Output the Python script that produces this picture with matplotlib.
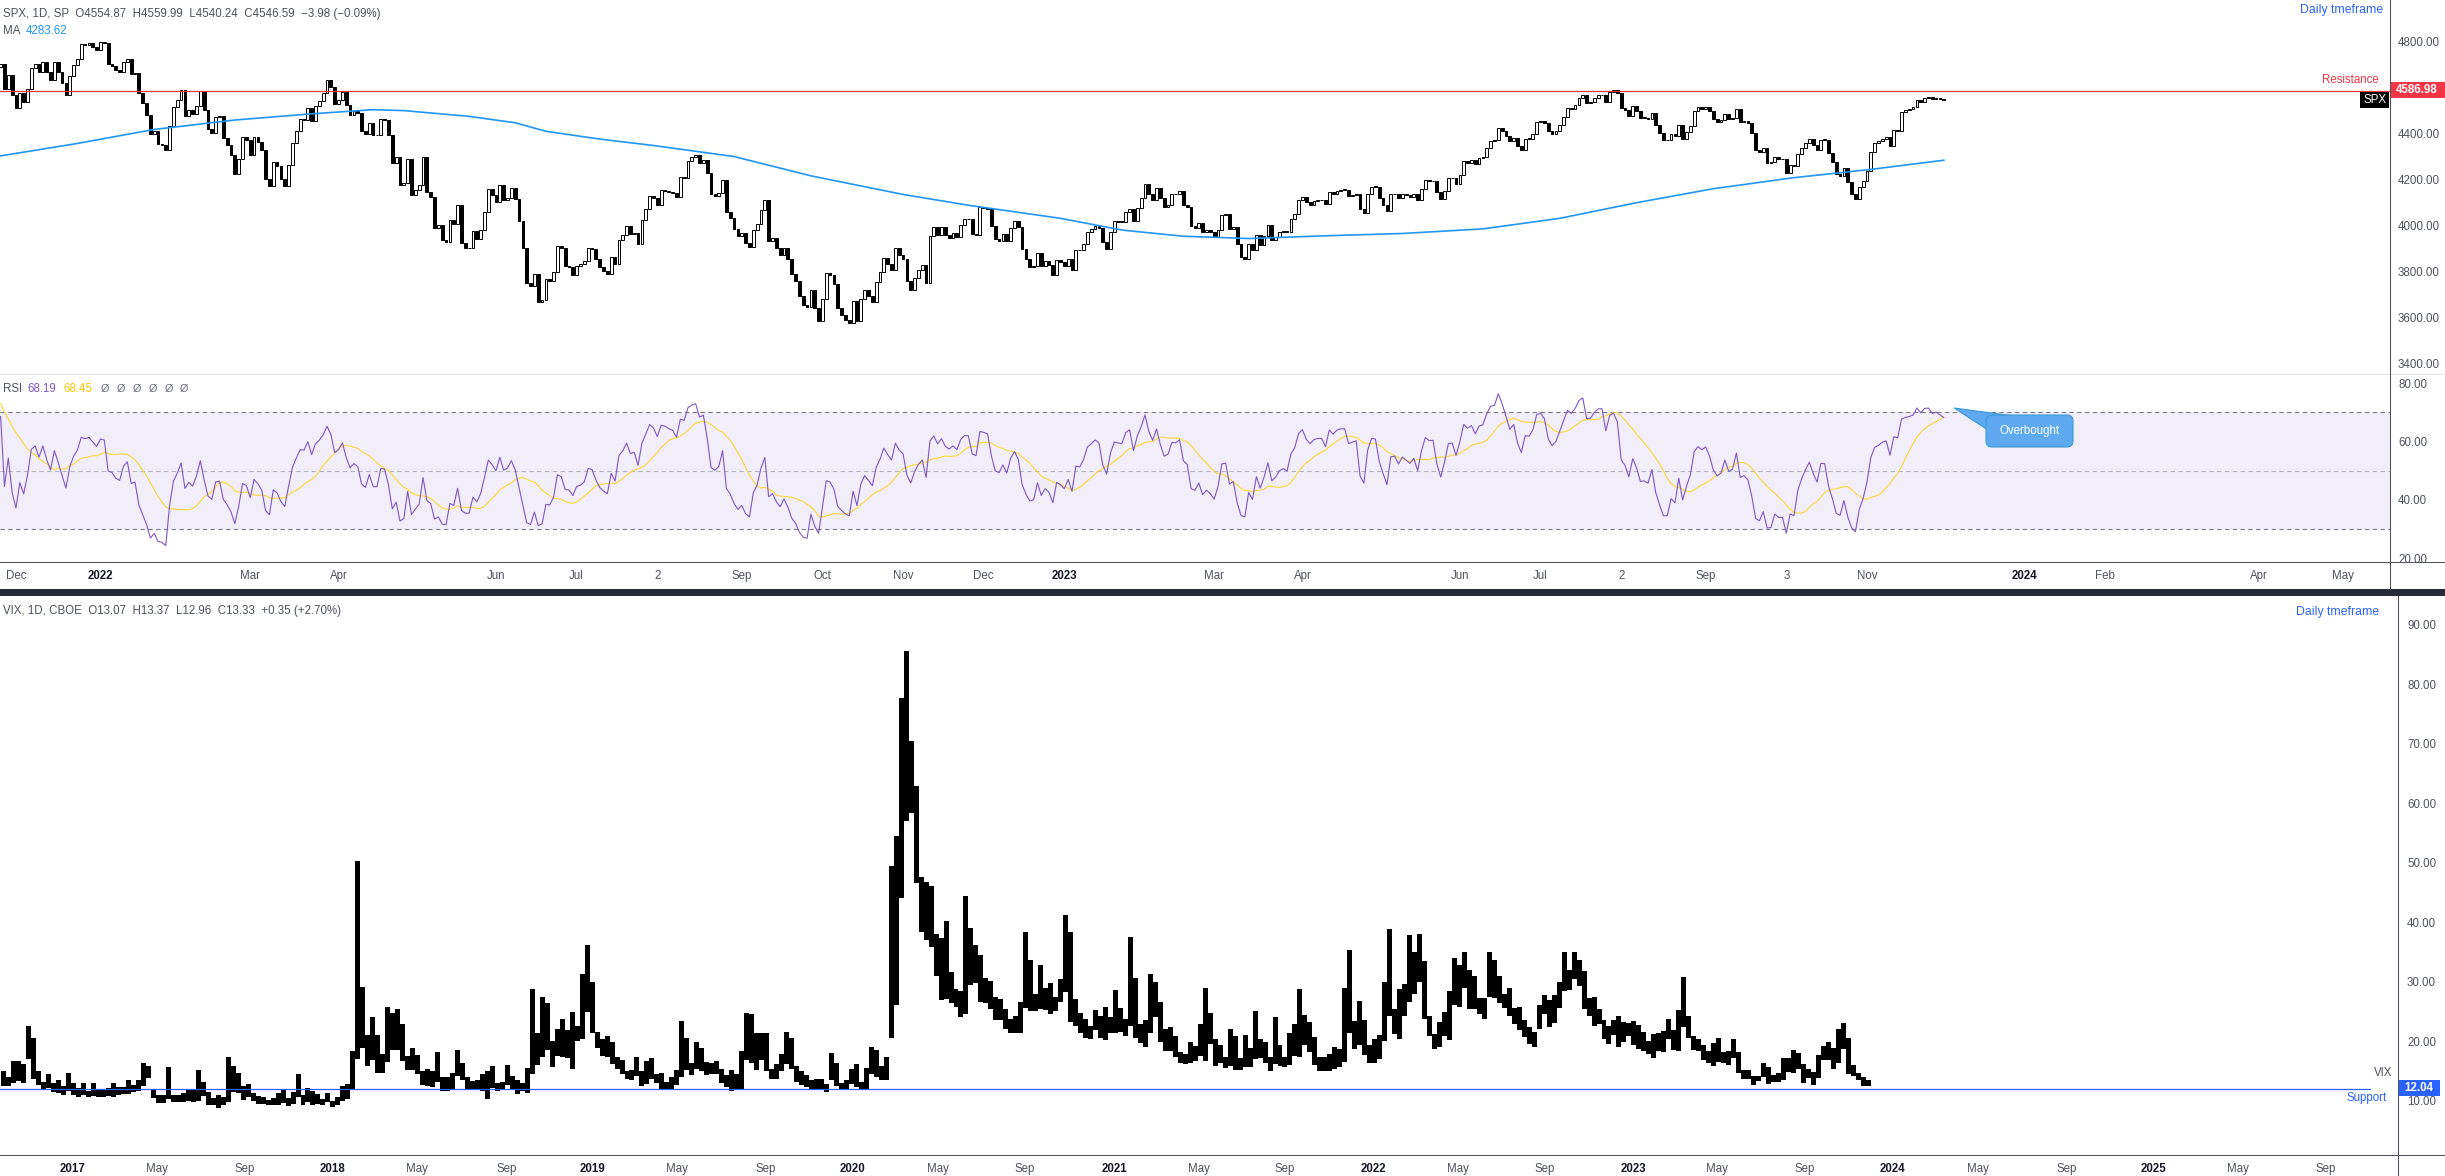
import numpy as np
import pandas as pd
import matplotlib
matplotlib.use("Agg")
import matplotlib.pyplot as plt
import matplotlib.dates as mdates
from matplotlib.lines import Line2D
from matplotlib.patches import Rectangle, FancyBboxPatch, Polygon
from matplotlib.transforms import Affine2D

plt.rcParams['font.family'] = ['Liberation Sans', 'DejaVu Sans']

# ---------------- SPX daily closes, Oct 2021 .. 30 Nov 2023 (one row per month)
spx_close = [
    4357, 4300, 4346, 4364, 4400, 4391, 4361, 4351, 4364, 4438, 4471, 4486, 4520, 4536, 4550, 4545, 4566, 4575, 4552, 4596, 4605,
    4614, 4631, 4661, 4680, 4698, 4702, 4685, 4647, 4649, 4683, 4683, 4701, 4689, 4705, 4698, 4683, 4691, 4701, 4595, 4655, 4567,
    4513, 4577, 4538, 4592, 4687, 4701, 4667, 4712, 4669, 4634, 4710, 4669, 4621, 4568, 4649, 4697, 4726, 4791, 4786, 4793, 4779, 4766,
    4797, 4794, 4701, 4696, 4677, 4670, 4713, 4726, 4659, 4663, 4577, 4533, 4483, 4398, 4410, 4356, 4350, 4327, 4432, 4516,
    4547, 4589, 4477, 4501, 4484, 4522, 4587, 4504, 4419, 4402, 4471, 4475, 4380, 4349, 4305, 4226, 4289, 4385, 4374,
    4306, 4387, 4363, 4329, 4201, 4171, 4278, 4260, 4204, 4173, 4262, 4358, 4412, 4463, 4461, 4512, 4456, 4520, 4543, 4576, 4632, 4602, 4530,
    4546, 4583, 4525, 4481, 4500, 4488, 4413, 4397, 4447, 4393, 4392, 4462, 4459, 4394, 4272, 4296, 4175, 4184, 4288, 4132,
    4155, 4175, 4300, 4147, 4123, 3991, 4001, 3935, 3930, 4024, 4008, 4089, 3924, 3901, 3901, 3974, 3941, 3979, 4058, 4158, 4132,
    4101, 4177, 4109, 4121, 4161, 4116, 4018, 3901, 3750, 3735, 3790, 3667, 3675, 3765, 3760, 3796, 3912, 3900, 3822, 3819, 3785,
    3825, 3831, 3845, 3903, 3899, 3854, 3819, 3802, 3790, 3863, 3831, 3937, 3960, 3999, 3962, 3967, 3921, 4024, 4072, 4130,
    4119, 4091, 4155, 4152, 4145, 4140, 4122, 4210, 4207, 4280, 4297, 4305, 4274, 4284, 4228, 4138, 4129, 4141, 4199, 4058, 4031, 3986, 3955,
    3967, 3924, 3908, 3980, 4006, 4067, 4110, 3933, 3946, 3901, 3873, 3900, 3856, 3790, 3758, 3693, 3655, 3647, 3719, 3640, 3586,
    3678, 3791, 3783, 3745, 3640, 3612, 3589, 3577, 3670, 3583, 3678, 3720, 3695, 3666, 3753, 3797, 3859, 3831, 3807, 3901, 3872,
    3856, 3760, 3720, 3771, 3807, 3828, 3749, 3956, 3993, 3957, 3992, 3959, 3947, 3965, 3950, 4004, 4027, 4026, 3964, 3958, 4080,
    4077, 4072, 3999, 3941, 3934, 3964, 3934, 3991, 4020, 3995, 3896, 3852, 3818, 3822, 3878, 3822, 3845, 3829, 3783, 3849, 3840,
    3824, 3853, 3808, 3895, 3892, 3919, 3970, 3983, 3999, 3991, 3929, 3899, 3973, 4020, 4017, 4016, 4060, 4071, 4018, 4077,
    4119, 4180, 4136, 4111, 4164, 4118, 4082, 4090, 4137, 4136, 4148, 4090, 4079, 3997, 3991, 4012, 3970, 3982, 3970,
    3951, 3981, 4046, 4048, 3986, 3992, 3918, 3862, 3856, 3919, 3892, 3960, 3917, 3952, 4003, 3937, 3949, 3971, 3978, 3971, 4028, 4051, 4109,
    4125, 4101, 4090, 4105, 4109, 4109, 4092, 4146, 4138, 4151, 4155, 4155, 4130, 4134, 4137, 4072, 4056, 4135, 4169,
    4168, 4120, 4091, 4061, 4136, 4138, 4119, 4138, 4131, 4124, 4136, 4110, 4159, 4198, 4192, 4193, 4146, 4115, 4151, 4205, 4206, 4180,
    4221, 4282, 4274, 4284, 4268, 4294, 4299, 4339, 4369, 4373, 4426, 4410, 4389, 4366, 4382, 4348, 4329, 4378, 4377, 4396, 4450,
    4456, 4447, 4412, 4399, 4410, 4439, 4472, 4510, 4505, 4523, 4555, 4566, 4535, 4536, 4555, 4567, 4567, 4537, 4582, 4589,
    4577, 4513, 4502, 4478, 4518, 4499, 4468, 4469, 4464, 4490, 4438, 4404, 4370, 4370, 4400, 4388, 4436, 4376, 4406, 4433, 4498, 4515, 4508,
    4516, 4497, 4465, 4451, 4457, 4487, 4462, 4467, 4505, 4450, 4454, 4444, 4402, 4330, 4320, 4337, 4274, 4275, 4300, 4288,
    4288, 4229, 4264, 4258, 4309, 4336, 4358, 4377, 4350, 4328, 4374, 4373, 4315, 4278, 4224, 4217, 4248, 4187, 4137, 4117, 4167, 4194,
    4238, 4318, 4358, 4366, 4378, 4383, 4347, 4415, 4412, 4496, 4503, 4508, 4514, 4547, 4538, 4557, 4559, 4550, 4555, 4551, 4547,
]
spx_first_day = '2021-10-01'
chart_start = '2021-11-24'
nyse_holidays = ['2021-11-25', '2021-12-24', '2022-01-17', '2022-02-21', '2022-04-15', '2022-05-30',
                 '2022-06-20', '2022-07-04', '2022-09-05', '2022-11-24', '2022-12-26', '2023-01-02',
                 '2023-01-16', '2023-02-20', '2023-04-07', '2023-05-29', '2023-06-19', '2023-07-04',
                 '2023-09-04', '2023-11-23', '2023-12-25', '2024-01-01', '2024-01-15', '2024-02-19',
                 '2024-03-29', '2024-05-27']

# 200-day moving average
ma_dates = ['2021-11-24', '2021-12-23', '2022-01-24', '2022-02-23', '2022-03-23', '2022-04-14',
            '2022-04-27', '2022-05-20', '2022-06-08', '2022-06-21', '2022-07-12', '2022-08-01',
            '2022-08-30', '2022-09-28', '2022-11-01', '2022-11-25', '2022-12-30', '2023-01-25',
            '2023-02-16', '2023-03-14', '2023-04-12', '2023-05-10', '2023-06-09', '2023-07-11',
            '2023-08-08', '2023-09-06', '2023-10-05', '2023-11-02', '2023-11-30']
ma_values = [4303, 4357, 4418, 4459, 4486, 4504, 4500, 4475, 4447, 4410, 4376, 4348,
             4300, 4216, 4135, 4088, 4031, 3980, 3953, 3943, 3955, 3965, 3985, 4031,
             4099, 4160, 4208, 4244, 4284]

resistance = 4586.98
spx_ticks = [4800, 4600, 4400, 4200, 4000, 3800, 3600, 3400]
rsi_ticks = [80, 60, 40, 20]

top_tick_dates = ['2021-12-01', '2022-01-03', '2022-03-01', '2022-04-01', '2022-06-01', '2022-07-01',
                  '2022-08-02', '2022-09-01', '2022-10-03', '2022-11-01', '2022-12-01', '2023-01-03',
                  '2023-03-01', '2023-04-03', '2023-06-01', '2023-07-03', '2023-08-02', '2023-09-01',
                  '2023-10-03', '2023-11-01', '2024-01-02', '2024-02-01', '2024-04-01', '2024-05-01']
top_tick_labels = ['Dec', '2022', 'Mar', 'Apr', 'Jun', 'Jul', '2', 'Sep', 'Oct', 'Nov', 'Dec', '2023',
                   'Mar', 'Apr', 'Jun', 'Jul', '2', 'Sep', '3', 'Nov', '2024', 'Feb', 'Apr', 'May']

# ---------------- VIX weekly high / low, from week of 26 Sep 2016
vix_start = '2016-09-26'
vix_high = [
    15.0, 14.0, 16.7, 16.6, 16.2, 22.5, 20.5, 15.0, 13.1, 14.4, 13.0, 13.4, 12.5, 14.7,
    13.0, 12.2, 12.9, 11.6, 13.0, 11.9, 11.8, 12.1, 12.9, 12.3, 12.3, 13.4, 12.6, 13.4, 16.3, 15.9, 11.9,
    11.0, 11.0, 15.6, 11.0, 11.0, 11.3, 11.8, 11.9, 15.2, 13.1, 11.5, 10.5, 11.0, 10.6, 17.3, 15.9, 14.6,
    12.4, 12.8, 11.3, 10.7, 10.6, 10.1, 10.4, 11.3, 11.8, 10.5, 11.5, 14.5, 10.9, 12.2, 11.7, 11.1, 10.3, 11.3,
    10.0, 10.6, 12.5, 12.8, 18.4, 50.3, 29.1, 21.1, 24.0, 21.1, 17.8, 25.7, 24.7, 25.4, 22.9, 17.5, 18.9,
    17.6, 15.0, 15.4, 15.0, 18.1, 13.9, 13.9, 14.7, 18.5, 16.3, 14.0, 13.3, 13.5, 14.5, 15.0, 15.9, 13.0,
    13.2, 16.0, 14.2, 13.5, 12.9, 15.5, 28.8, 21.3, 27.4, 26.4, 20.0, 22.1, 23.8, 21.8, 24.9, 22.6, 31.2,
    36.2, 29.9,
    21.5, 20.3, 20.8, 19.9, 17.4, 16.9, 15.0, 15.1, 17.4, 15.0, 16.6, 17.1, 14.5, 14.6, 13.1, 13.9, 15.2,
    23.4, 20.6, 16.4, 19.9, 18.9, 16.5, 16.3, 16.7, 15.4, 14.3, 15.2, 14.5, 18.3, 24.8, 24.6, 21.3, 21.4,
    21.4, 15.4, 16.1, 17.9, 21.5, 20.5, 15.9, 15.0, 14.3, 13.4, 13.6, 13.6, 12.8, 18.0, 16.3, 12.9, 13.4, 15.3,
    16.2, 13.2, 15.5, 19.0, 18.5, 15.9, 17.4, 49.5, 54.4, 77.6, 85.5, 70.4, 62.8, 47.6, 46.7, 46.1, 38.0,
    37.4, 40.2, 31.6, 28.8, 28.5, 44.4, 39.0, 36.2, 34.5, 30.6, 30.1, 27.4, 27.0, 25.4, 23.8, 24.2, 26.6,
    38.3, 33.6, 27.9, 32.8, 29.0, 29.8, 27.5, 30.4, 41.2, 38.3, 27.1, 24.8, 23.7, 22.5, 25.3, 24.2, 25.7, 24.0,
    28.6, 25.6, 23.7, 37.5, 30.6, 22.8, 23.6, 31.2, 30.0, 26.6, 22.1, 22.3, 20.8, 18.2, 17.9, 19.9, 19.2,
    22.8, 28.9, 24.8, 20.3, 19.4, 17.3, 22.1, 20.9, 17.2, 21.1, 18.9, 25.1, 20.4, 19.9, 17.4, 24.0, 19.4,
    17.3, 21.4, 22.9, 28.8, 24.4, 23.3, 20.7, 17.3, 17.4, 17.8, 19.1, 18.7, 29.0, 35.3, 23.4, 26.8, 23.6, 19.3,
    20.4, 21.1, 29.9, 38.9, 25.4, 28.7, 29.6, 37.8, 35.0, 38.0, 33.4, 24.3, 21.2, 23.3, 24.9, 28.5, 34.0,
    32.8, 35.0, 32.0, 30.9, 27.3, 27.3, 35.0, 33.6, 30.9, 28.0, 28.9, 25.6, 25.7, 23.6, 22.3, 21.5, 26.0,
    27.8, 26.9, 27.7, 30.0, 34.9, 32.0, 34.9, 33.6, 31.8, 27.3, 27.5, 25.4, 23.5, 22.6, 23.6, 24.2, 23.3, 23.0,
    23.4, 22.7, 21.5, 20.0, 21.2, 21.4, 21.7, 23.8, 21.8, 25.2, 30.8, 24.3, 20.8, 20.4, 19.4, 18.3, 19.7,
    20.6, 18.2, 18.3, 20.4, 18.2, 15.1, 15.1, 14.1, 14.2, 16.3, 15.6, 14.3, 14.7, 17.1, 17.2, 18.5, 18.0,
    16.2, 15.4, 14.8, 17.7, 19.2, 19.8, 18.8, 22.1, 23.1, 20.5, 16.0, 14.7, 14.0, 13.4,
]
vix_low = [
    12.4, 12.5, 13.0, 13.3, 13.0, 17.0, 13.7, 12.6, 12.0, 12.1, 11.4, 11.3, 11.0, 11.6,
    11.0, 10.6, 11.0, 10.6, 10.7, 10.6, 10.6, 10.8, 10.6, 10.9, 11.1, 11.2, 11.5, 11.6, 12.4, 13.8, 10.4,
    9.6, 9.6, 10.3, 9.8, 9.7, 9.8, 9.9, 9.7, 10.0, 10.8, 9.3, 9.2, 8.8, 9.3, 9.8, 11.5, 11.3,
    10.1, 10.6, 9.9, 9.5, 9.4, 9.2, 9.2, 9.3, 9.6, 9.1, 9.5, 10.6, 9.3, 9.7, 9.3, 9.5, 9.3, 9.8,
    8.9, 9.2, 9.9, 10.3, 11.9, 17.0, 18.8, 15.8, 16.8, 14.6, 14.6, 16.5, 18.5, 18.5, 16.6, 15.2, 15.1,
    14.5, 12.6, 12.4, 12.3, 13.1, 11.6, 11.6, 12.0, 14.2, 13.4, 11.9, 11.8, 11.8, 11.6, 10.2, 12.1, 11.6,
    11.9, 12.6, 11.9, 11.2, 11.6, 11.3, 14.5, 16.0, 17.4, 18.5, 15.7, 17.5, 17.3, 17.1, 15.3, 20.0, 20.3,
    24.9, 21.3,
    18.8, 17.5, 17.4, 16.1, 15.3, 14.5, 13.7, 13.4, 14.1, 12.5, 12.8, 13.6, 12.9, 12.0, 11.9, 12.0, 12.6,
    14.0, 15.1, 14.3, 15.3, 15.0, 14.3, 14.4, 14.5, 12.9, 12.3, 11.7, 12.0, 12.0, 16.8, 16.3, 15.2, 16.9,
    15.0, 13.7, 13.7, 15.0, 16.1, 15.3, 13.2, 12.6, 12.3, 12.0, 11.8, 11.8, 11.5, 13.4, 12.5, 11.8, 11.8, 12.8,
    12.3, 11.8, 11.8, 14.5, 14.0, 13.4, 13.4, 20.6, 26.0, 44.0, 57.0, 58.4, 46.6, 38.3, 37.0, 35.9, 31.0,
    26.9, 27.0, 26.4, 25.7, 24.0, 24.5, 29.4, 29.7, 26.5, 26.4, 25.4, 23.5, 23.6, 22.1, 21.4, 21.4, 21.4,
    25.5, 25.1, 25.0, 25.4, 25.2, 24.6, 25.0, 26.6, 28.3, 23.3, 22.5, 21.4, 20.6, 20.4, 21.9, 20.6, 20.2, 21.3,
    21.3, 21.5, 20.9, 22.6, 20.6, 19.7, 19.0, 21.3, 24.0, 19.9, 18.4, 18.3, 17.3, 16.3, 16.1, 16.4, 16.6,
    17.5, 16.6, 19.6, 15.8, 16.3, 15.5, 15.9, 15.1, 15.1, 15.6, 15.7, 17.0, 17.2, 16.3, 15.0, 16.2, 15.8,
    15.7, 16.0, 17.5, 17.4, 19.4, 18.2, 16.0, 15.0, 15.0, 15.0, 15.4, 15.6, 16.5, 21.3, 18.6, 19.3, 17.7, 16.3,
    16.4, 17.0, 20.0, 24.3, 21.2, 20.3, 24.2, 26.5, 28.0, 29.9, 23.8, 20.8, 18.7, 19.0, 20.8, 20.2, 26.0,
    25.8, 28.9, 25.4, 25.4, 24.5, 23.8, 27.5, 27.2, 26.4, 25.5, 24.2, 22.8, 21.8, 20.7, 19.5, 19.1, 22.0,
    24.5, 22.3, 23.0, 25.5, 28.5, 28.6, 30.5, 29.3, 25.4, 24.3, 22.6, 22.8, 20.3, 19.6, 21.0, 19.0, 19.9, 20.8,
    19.4, 18.6, 18.4, 17.9, 17.1, 18.3, 18.1, 20.3, 18.5, 18.3, 22.3, 20.5, 18.5, 18.4, 16.9, 16.4, 15.8,
    16.5, 16.4, 16.0, 17.2, 14.6, 13.6, 13.7, 12.7, 13.3, 13.9, 12.8, 13.2, 13.1, 13.5, 14.8, 14.7, 15.3,
    13.0, 13.8, 12.7, 13.8, 16.8, 16.9, 15.3, 16.4, 18.6, 14.5, 14.1, 13.4, 12.4, 12.5,
]
support = 12.04
vix_ticks = [90, 80, 70, 60, 50, 40, 30, 20, 10]
vix_tick_dates = ['2017-01-03', '2017-05-01', '2017-09-01', '2018-01-02', '2018-05-01', '2018-09-04',
                  '2019-01-02', '2019-05-01', '2019-09-03', '2020-01-02', '2020-05-01', '2020-09-01',
                  '2021-01-04', '2021-05-03', '2021-09-01', '2022-01-03', '2022-05-02', '2022-09-01',
                  '2023-01-03', '2023-05-01', '2023-09-01', '2024-01-02', '2024-05-01', '2024-09-03',
                  '2025-01-02', '2025-05-01', '2025-09-02']
vix_tick_labels = ['2017', 'May', 'Sep', '2018', 'May', 'Sep', '2019', 'May', 'Sep', '2020', 'May', 'Sep',
                   '2021', 'May', 'Sep', '2022', 'May', 'Sep', '2023', 'May', 'Sep', '2024', 'May', 'Sep',
                   '2025', 'May', 'Sep']

# ---------------- style
W, H = 2445, 1176
FS = 8.3
GREY = '#4f525c'
AXIS = '#50535e'
BLUE = '#2962ff'
RED = '#f23645'

fig = plt.figure(figsize=(W / 100, H / 100), dpi=100)
fig.patch.set_facecolor('white')
pix = Affine2D().scale(1, -1).translate(0, H)  # pixel coords, origin top-left


def axes_at(x0, y0, x1, y1):
    ax = fig.add_axes([x0 / W, 1 - y1 / H, (x1 - x0) / W, (y1 - y0) / H])
    for s in ax.spines.values():
        s.set_visible(False)
    ax.yaxis.tick_right()
    ax.tick_params(length=0, labelsize=FS, labelcolor=GREY)
    return ax


def line(x0, y0, x1, y1, color=AXIS, lw=0.75):
    fig.add_artist(Line2D([x0, x1], [y0, y1], transform=pix, color=color, lw=lw))


def label(x, y, s, **kw):
    kw.setdefault('fontsize', FS)
    kw.setdefault('color', GREY)
    kw.setdefault('va', 'center')
    fig.text(x, y, s, transform=pix, **kw)


# trading-day index for the top panes
days = pd.bdate_range(spx_first_day, '2024-06-28', freq='C', holidays=nyse_holidays)
i0 = days.searchsorted(pd.Timestamp(chart_start))
xs = np.arange(len(spx_close)) - i0


def day_pos(dates):
    return days.searchsorted(pd.to_datetime(dates)) - i0


close = pd.Series(spx_close, dtype=float)
opens = close.shift(1).fillna(close.iloc[0])
up = close >= opens

# RSI(14) with its 14-period moving average
delta = close.diff().fillna(0)
avg_gain = delta.clip(lower=0).ewm(alpha=1 / 14, adjust=False).mean()
avg_loss = (-delta).clip(lower=0).ewm(alpha=1 / 14, adjust=False).mean()
rsi = 100 - 100 / (1 + avg_gain / avg_loss)
rsi_ma = rsi.rolling(14).mean()

# ---------------- SPX pane
ax_spx = axes_at(0, 0, 2390, 374)
ax_spx.set_xlim(-0.16, 622.2)
ax_spx.set_ylim(3353.3, 4981.5)
ax_spx.set_xticks([])
ax_spx.set_yticks(spx_ticks, [f'{v:.2f}' for v in spx_ticks])
ax_spx.tick_params(axis='y', pad=5.8)
ax_spx.axhline(resistance, color=RED, lw=0.9)
ax_spx.plot(day_pos(ma_dates), ma_values, color='#2196f3', lw=1.2)
body_lo = np.minimum(opens, close)
body_h = np.maximum(np.abs(close - opens), 2.5)
ax_spx.bar(xs, body_h, bottom=body_lo, width=0.72,
           color=np.where(up, 'white', 'black'), edgecolor='black', linewidth=0.7)

# ---------------- RSI pane
ax_rsi = axes_at(0, 374, 2390, 562)
ax_rsi.set_xlim(-0.16, 622.2)
ax_rsi.set_ylim(18.7, 83.2)
ax_rsi.set_yticks(rsi_ticks, [f'{v:.2f}' for v in rsi_ticks])
ax_rsi.tick_params(axis='y', pad=5.8)
ax_rsi.axhspan(30, 70, color='#f1edf9', lw=0)
ax_rsi.axhline(70, color='#787b86', lw=0.8, ls=(0, (4, 3)))
ax_rsi.axhline(50, color='#b2b5be', lw=0.8, ls=(0, (4, 3)))
ax_rsi.axhline(30, color='#787b86', lw=0.8, ls=(0, (4, 3)))
vis = xs >= 0
ax_rsi.plot(xs[vis], rsi_ma[vis], color='#fbd835', lw=0.8)
ax_rsi.plot(xs[vis], rsi[vis], color='#7e57c2', lw=0.8)
ax_rsi.set_xticks(day_pos(top_tick_dates), top_tick_labels)
ax_rsi.tick_params(axis='x', pad=6)
for t in ax_rsi.get_xticklabels():
    if t.get_text().isdigit() and len(t.get_text()) == 4:
        t.set_fontweight('bold')
        t.set_color('#131722')

# ---------------- VIX pane
VX = 2398
ax_vix = axes_at(0, 596, VX, 1155)
ax_vix.set_xlim(mdates.date2num(pd.Timestamp('2016-09-22 12:00')), mdates.date2num(pd.Timestamp('2025-12-12')))
ax_vix.set_ylim(0.87, 94.8)
ax_vix.set_yticks(vix_ticks, [f'{v:.2f}' for v in vix_ticks])
ax_vix.tick_params(axis='y', pad=6.5)
weeks = pd.date_range(vix_start, periods=len(vix_high), freq='7D') + pd.Timedelta(days=2)
hi = np.array(vix_high)
lo = np.array(vix_low)
ax_vix.bar(mdates.date2num(weeks), hi - lo, bottom=lo, width=7, color='black', linewidth=0)
ax_vix.axhline(support, xmax=2370 / VX, color=BLUE, lw=0.9)
ax_vix.set_xticks(mdates.date2num(pd.to_datetime(vix_tick_dates)), vix_tick_labels)
ax_vix.tick_params(axis='x', pad=5.5)
for t in ax_vix.get_xticklabels():
    if t.get_text().isdigit():
        t.set_fontweight('bold')
        t.set_color('#131722')

# ---------------- frame lines
line(0, 374, W, 374, color='#e0e3eb')
line(0, 562, W, 562)
line(2390, 0, 2390, 589)
fig.add_artist(Rectangle((0, 589), W, 7, transform=pix, color='#262b36', lw=0))
line(0, 1155, W, 1155)
line(VX, 596, VX, H)

# ---------------- header texts
label(3, 14, 'SPX, 1D, SP  O4554.87  H4559.99  L4540.24  C4546.59  \u22123.98 (\u22120.09%)')
label(3, 31, 'MA')
label(26, 31, '4283.62', color='#2196f3')
label(3, 389, 'RSI')
label(27, 389, '68.19', color='#7e57c2')
label(63, 389, '68.45', color='#f5c800')
for k in range(6):
    label(101 + 15.8 * k, 389, '\u00d8', fontsize=7.8, color='#6a6d78')
label(3, 611, 'VIX, 1D, CBOE  O13.07  H13.37  L12.96  C13.33  +0.35 (+2.70%)')

label(2383, 10, 'Daily tmeframe', color=BLUE, ha='right', fontsize=8.8)
label(2379, 612, 'Daily tmeframe', color=BLUE, ha='right', fontsize=8.8)

# resistance annotations
label(2379, 80, 'Resistance', color=RED, ha='right')
fig.add_artist(Rectangle((2390, 82), 60, 16, transform=pix, color=RED, lw=0))
label(2417, 90, f'{resistance:.2f}', color='white', ha='center', fontweight='bold')
fig.add_artist(Rectangle((2360, 92), 29, 16, transform=pix, color='black', lw=0))
label(2374.5, 100, 'SPX', color='white', ha='center')

# support annotations
label(2392, 1073, 'VIX', ha='right')
label(2387, 1098, 'Support', color=BLUE, ha='right')
fig.add_artist(Rectangle((VX, 1080), 42, 16, transform=pix, color=BLUE, lw=0))
label(2419, 1088, f'{support:.2f}', color='white', ha='center', fontweight='bold')

# overbought callout
fig.add_artist(Polygon([(1954, 408), (2014, 416), (1988, 430)], closed=True, transform=pix,
                       facecolor='#5ea9ef', edgecolor='#3c9bd6', lw=0.8))
fig.add_artist(FancyBboxPatch((1986, 415), 87, 32, boxstyle='round,pad=0,rounding_size=6', transform=pix,
                              facecolor='#5ea9ef', edgecolor='#3c9bd6', lw=0.8))
label(2029.5, 431, 'Overbought', color='white', ha='center')

fig.savefig('out.png', dpi=100)
